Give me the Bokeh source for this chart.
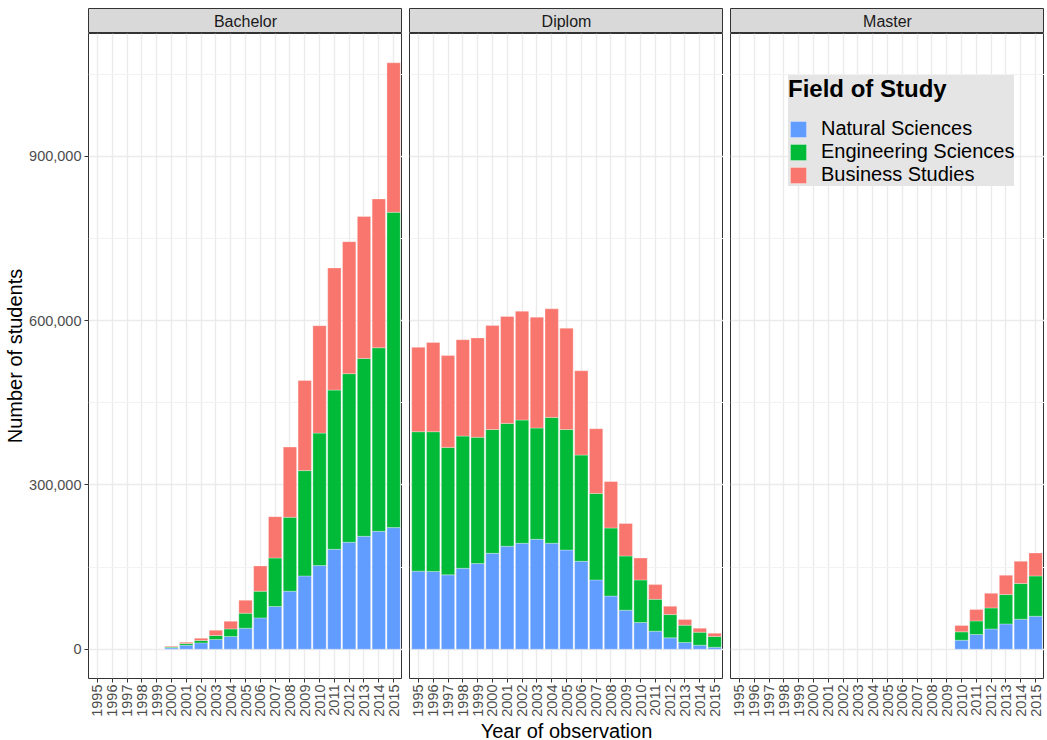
import math
from bokeh.plotting import figure
from bokeh.layouts import row, column
from bokeh.models import (Range1d, FixedTicker, NumeralTickFormatter, Label,
                          Legend, LegendItem, ColumnDataSource)
from bokeh.embed import file_html
from bokeh.resources import INLINE

# ---------------- data ----------------
all_years = [1995, 1996, 1997, 1998, 1999, 2000, 2001, 2002, 2003, 2004, 2005,
             2006, 2007, 2008, 2009, 2010, 2011, 2012, 2013, 2014, 2015]
fields = ["Natural Sciences", "Engineering Sciences", "Business Studies"]
field_colors = ["#619CFF", "#00BA38", "#F8766D"]
degrees = ["Bachelor", "Diplom", "Master"]

bachelor_years = [2000, 2001, 2002, 2003, 2004, 2005, 2006, 2007, 2008, 2009,
                  2010, 2011, 2012, 2013, 2014, 2015]
bachelor_natural = [2500, 7300, 11500, 17700, 23200, 38300, 57100, 77900, 105800,
                    133700, 152600, 182400, 195200, 206100, 215200, 222000]
bachelor_engineering = [1500, 3100, 4300, 7300, 13800, 27400, 48700, 88600, 135000,
                        192300, 241900, 290600, 307800, 324700, 335100, 575600]
bachelor_business = [1500, 2400, 4200, 9700, 14000, 23700, 46200, 75500, 128200,
                     164600, 196000, 223000, 241000, 259200, 271700, 272900]

diplom_years = [1995, 1996, 1997, 1998, 1999, 2000, 2001, 2002, 2003, 2004, 2005,
                2006, 2007, 2008, 2009, 2010, 2011, 2012, 2013, 2014, 2015]
diplom_natural = [142500, 142000, 135700, 147700, 156300, 175000, 187900, 193400,
                  200600, 193400, 181000, 160500, 126400, 97000, 71200, 48700,
                  32800, 20700, 12200, 7300, 3600]
diplom_engineering = [254500, 255000, 232700, 241300, 230600, 226000, 224300, 224900,
                      203100, 229800, 220000, 193900, 158000, 124200, 99000, 77700,
                      58200, 42500, 31600, 23700, 19500]
diplom_business = [154000, 163000, 167600, 176000, 181400, 190000, 195200, 198700,
                   202500, 198200, 185000, 153800, 118200, 84800, 59300, 40100,
                   26900, 15200, 10300, 7300, 6100]

master_years = [2010, 2011, 2012, 2013, 2014, 2015]
master_natural = [16400, 26800, 37000, 46100, 54700, 60100]
master_engineering = [15200, 24800, 38300, 53600, 65100, 73600]
master_business = [11600, 20700, 26700, 35300, 40700, 41900]

y_ticks = [0, 300000, 600000, 900000]
y_minor = [150000, 450000, 750000, 1050000]

# ---------------- styling ----------------
FONT = "Liberation Sans"
FRAME_W = 314
FRAME_H = 645
STRIP_H = 25
TOP = 8
LEFT_W = 88
GAP = 7
BOTTOM = 62

panel_data = [
    (bachelor_years, bachelor_natural, bachelor_engineering, bachelor_business),
    (diplom_years, diplom_natural, diplom_engineering, diplom_business),
    (master_years, master_natural, master_engineering, master_business),
]

totals = []
for yrs, n, e, b in panel_data:
    totals += [a + c + d for a, c, d in zip(n, e, b)]
ymax = max(totals)
y_lo = -0.05 * ymax
y_hi = 1.05 * ymax
x_lo = all_years[0] - 0.6
x_hi = all_years[-1] + 0.6

columns = []
master_renderers = None
for i, (deg, (yrs, n, e, b)) in enumerate(zip(degrees, panel_data)):
    left = LEFT_W if i == 0 else GAP
    # strip
    s = figure(frame_width=FRAME_W, frame_height=STRIP_H,
               x_range=Range1d(0, 1), y_range=Range1d(0, 1),
               output_backend="svg", toolbar_location=None,
               min_border_left=left, min_border_right=0,
               min_border_top=TOP, min_border_bottom=0)
    s.axis.visible = False
    s.grid.visible = False
    s.background_fill_color = "#D9D9D9"
    s.outline_line_color = "#333333"
    s.outline_line_width = 1
    s.add_layout(Label(x=0.5, y=0.5, text=deg, text_align="center",
                       text_baseline="middle", text_font=FONT,
                       text_font_size="16px", text_color="#1A1A1A"))

    p = figure(frame_width=FRAME_W, frame_height=FRAME_H,
               x_range=Range1d(x_lo, x_hi), y_range=Range1d(y_lo, y_hi),
               output_backend="svg", toolbar_location=None,
               min_border_left=left, min_border_right=0,
               min_border_top=0, min_border_bottom=BOTTOM)
    p.background_fill_color = "white"
    p.outline_line_color = "#333333"
    p.outline_line_width = 1

    src = ColumnDataSource(dict(year=yrs, n=n, e=e, b=b))
    rs = p.vbar_stack(["n", "e", "b"], x="year", width=0.9, source=src,
                      fill_color=field_colors, line_color="white",
                      line_width=0.6, line_alpha=0.5)
    if i == 2:
        master_renderers = rs

    # x axis
    p.xaxis.ticker = FixedTicker(ticks=all_years)
    p.xaxis.major_label_orientation = math.pi / 2
    p.xaxis.major_label_text_font = FONT
    p.xaxis.major_label_text_font_size = "14.5px"
    p.xaxis.major_label_text_color = "#4D4D4D"
    p.xaxis.major_label_standoff = 2
    p.xaxis.axis_line_color = None
    p.xaxis.major_tick_line_color = "#333333"
    p.xaxis.major_tick_out = 4
    p.xaxis.major_tick_in = 0
    p.xaxis.minor_tick_line_color = None
    if i == 1:
        p.xaxis.axis_label = "Year of observation"
        p.xaxis.axis_label_text_font = FONT
        p.xaxis.axis_label_text_font_size = "20px"
        p.xaxis.axis_label_text_font_style = "normal"
        p.xaxis.axis_label_text_color = "black"
        p.xaxis.axis_label_standoff = 0

    # y axis
    p.yaxis.ticker = FixedTicker(ticks=y_ticks, minor_ticks=y_minor)
    p.ygrid.ticker = FixedTicker(ticks=y_ticks, minor_ticks=y_minor)
    p.xgrid.ticker = FixedTicker(ticks=all_years)
    if i == 0:
        p.yaxis.formatter = NumeralTickFormatter(format="0,0")
        p.yaxis.major_label_text_font = FONT
        p.yaxis.major_label_text_font_size = "14.5px"
        p.yaxis.major_label_text_color = "#4D4D4D"
        p.yaxis.major_label_standoff = 3
        p.yaxis.axis_line_color = None
        p.yaxis.major_tick_line_color = "#333333"
        p.yaxis.major_tick_out = 4
        p.yaxis.major_tick_in = 0
        p.yaxis.minor_tick_line_color = None
        p.yaxis.axis_label = "Number of students"
        p.yaxis.axis_label_text_font = FONT
        p.yaxis.axis_label_text_font_size = "20px"
        p.yaxis.axis_label_text_font_style = "normal"
        p.yaxis.axis_label_text_color = "black"
        p.yaxis.axis_label_standoff = 0
    else:
        p.yaxis.visible = False

    p.xgrid.grid_line_color = "#EBEBEB"
    p.xgrid.grid_line_width = 1.4
    p.ygrid.grid_line_color = "#EBEBEB"
    p.ygrid.grid_line_width = 1.4
    p.ygrid.minor_grid_line_color = "#F2F2F2"
    p.ygrid.minor_grid_line_width = 1

    columns.append(column(s, p, spacing=0))

# legend in Master panel
pm = columns[2].children[1]
legend = Legend(items=[LegendItem(label=f, renderers=[r])
                       for f, r in zip(fields, master_renderers)],
                title="Field of Study", location=(58, 492))
legend.title_text_font = FONT
legend.title_text_font_size = "24px"
legend.title_text_font_style = "bold"
legend.title_text_color = "black"
legend.title_standoff = 14
legend.label_text_font = FONT
legend.label_text_font_size = "20px"
legend.label_text_color = "black"
legend.label_standoff = 13
legend.label_height = 20
legend.glyph_width = 20
legend.glyph_height = 20
legend.spacing = 0
legend.padding = 8
legend.margin = 0
legend.background_fill_color = "#E5E5E5"
legend.background_fill_alpha = 1
legend.border_line_color = None
pm.add_layout(legend, "center")

layout = row(*columns, spacing=0)
open("out.html", "w").write(file_html(layout, INLINE))
